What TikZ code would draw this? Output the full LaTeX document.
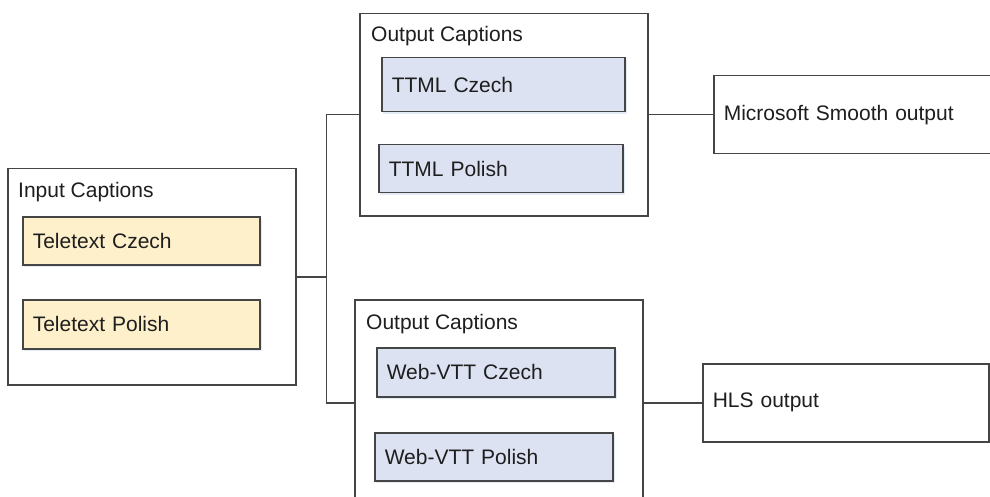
\documentclass[tikz,border=0pt]{standalone}
\usepackage{fontspec}
\setmainfont{Liberation Sans}
\definecolor{edge}{HTML}{454545}
\definecolor{yfill}{HTML}{FFF0CC}
\definecolor{bfill}{HTML}{DCE2F2}
\definecolor{shade}{HTML}{C9D8EE}
\definecolor{ink}{HTML}{1E1E1E}
\tikzset{
  container/.style={draw=edge, line width=1.5pt, fill=white, anchor=north west, inner sep=0pt},
  item/.style={draw=edge, line width=1.5pt, anchor=north west, inner xsep=10pt, inner ysep=0pt,
     align=left, font=\fontsize{21}{24}\selectfont, text=ink},
  yitem/.style={item, fill=yfill},
  bitem/.style={item, fill=bfill},
  title/.style={anchor=base west, inner sep=0pt, font=\fontsize{21}{24}\selectfont, text=ink},
  wire/.style={draw=edge, line width=1.5pt},
  shadowbox/.style={fill=shade, opacity=0.5, draw=none}
}
\begin{document}
\begin{tikzpicture}[x=1pt,y=-1pt]
\useasboundingbox (0,0) rectangle (990,497);
\begin{scope}
\clip (0,0) rectangle (990,497);
% containers
\node[container, minimum width=288pt, minimum height=216pt] (inbox) at (7,168) {};
\node[title] (intitle) at (18,197) {Input Captions};
\node[container, minimum width=288pt, minimum height=202pt] (out1) at (359,13) {};
\node[title] (out1title) at (371,42) {Output Captions};
\node[container, minimum width=288pt, minimum height=206pt] (out2) at (354,299) {};
\node[title] (out2title) at (366,329) {Output Captions};
% shadows
\fill[shadowbox] (24,219) rectangle (262,267);
\fill[shadowbox] (24,302) rectangle (262,351);
\fill[shadowbox] (383,60) rectangle (627,114);
\fill[shadowbox] (380,147) rectangle (625,195);
\fill[shadowbox] (378,350) rectangle (617,399);
\fill[shadowbox] (376,435) rectangle (615,483);
% items
\node[yitem, text width=217pt, minimum height=48pt] (tc) at (22,216) {Teletext Czech};
\node[yitem, text width=217pt, minimum height=49pt] (tp) at (22,299) {Teletext Polish};
\node[bitem, text width=223pt, minimum height=54pt] (ttc) at (381,57) {TTML Czech};
\node[bitem, text width=224pt, minimum height=48pt] (ttp) at (378,144) {TTML Polish};
\node[bitem, text width=218pt, minimum height=49pt] (wvc) at (376,347) {Web-VTT Czech};
\node[bitem, text width=218pt, minimum height=48pt] (wvp) at (374,432) {Web-VTT Polish};
% outputs
\node[item, fill=white, text width=280pt, minimum height=78pt] (ms) at (713,75) {Microsoft Smooth output};
\node[item, fill=white, text width=266pt, minimum height=78pt] (hls) at (702,363) {HLS output};
% connectors
\path (inbox.east) ++(30,0) coordinate (junc);
\draw[wire] (inbox.east) -- (junc);
\draw[wire] (junc) |- (out1.west);
\draw[wire] (junc) |- (out2.west);
\draw[wire] (out1.east) -- (ms.west);
\draw[wire] (out2.east) -- (hls.west);
\end{scope}
\end{tikzpicture}
\end{document}
